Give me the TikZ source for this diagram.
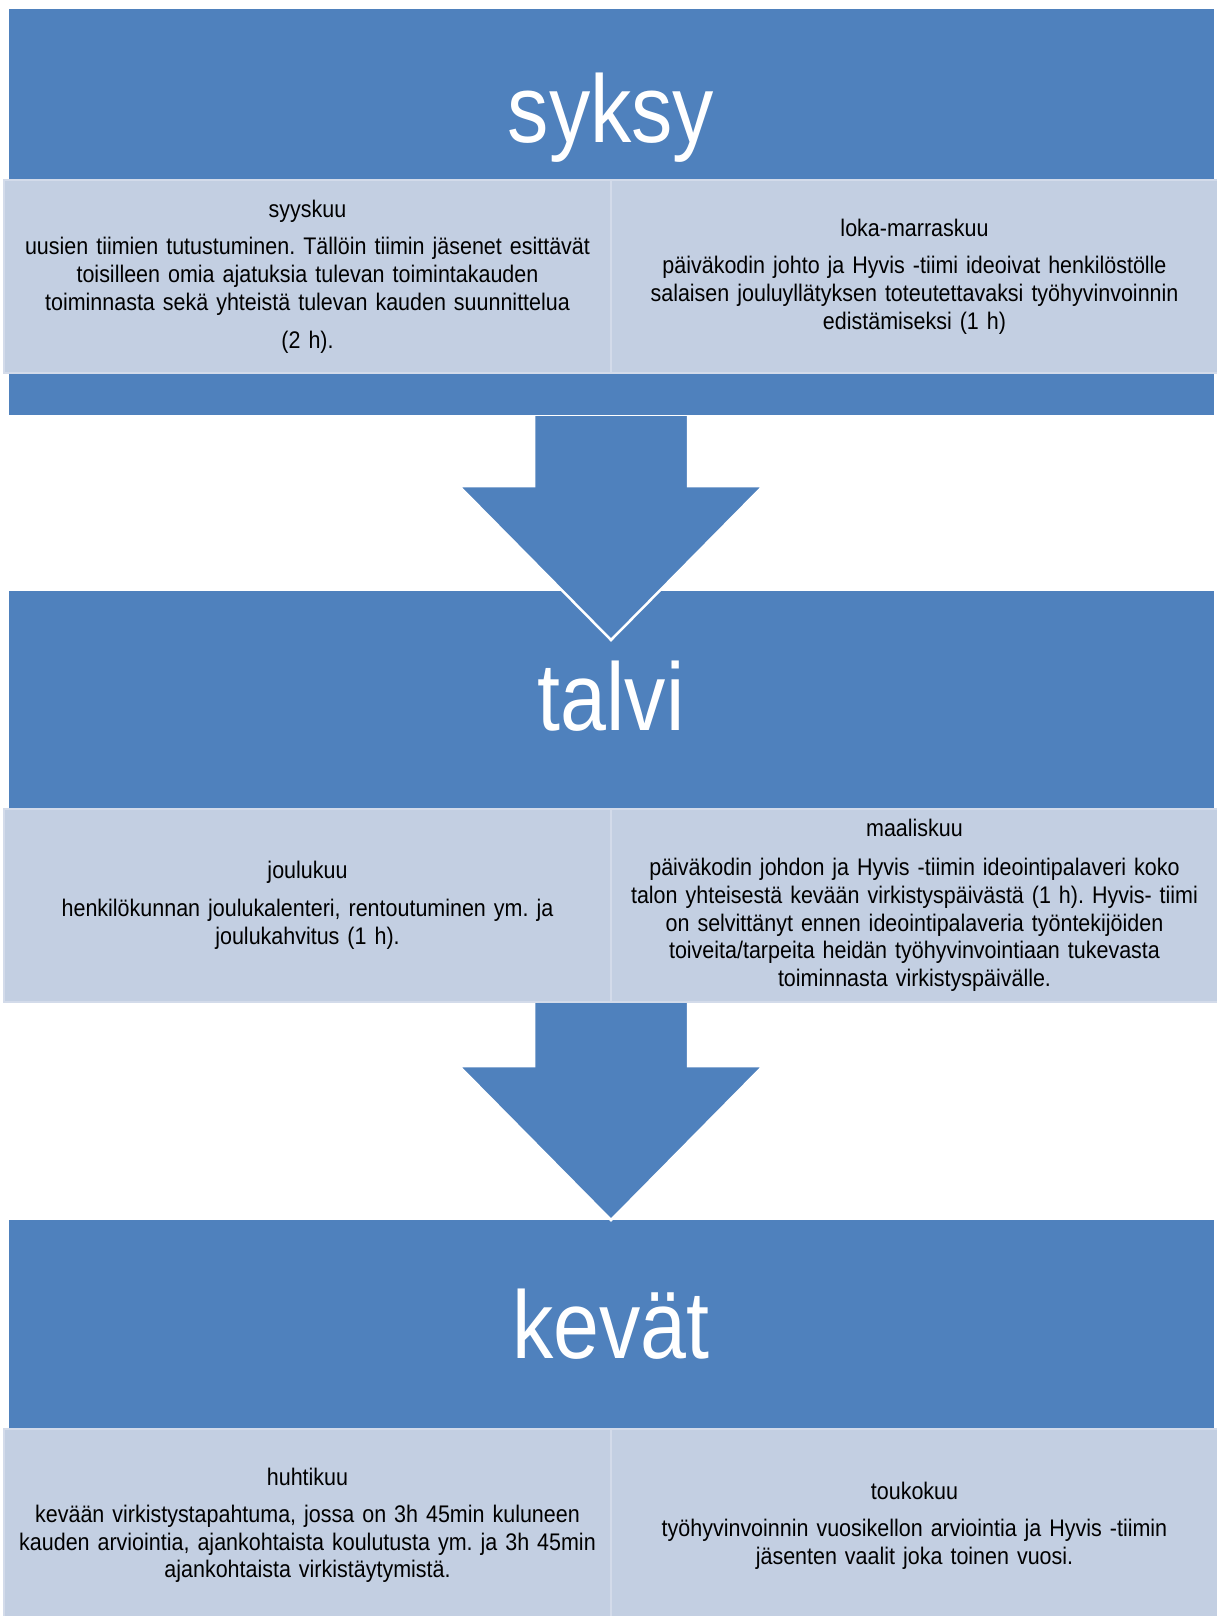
\documentclass[tikz,border=0pt]{standalone}
\usepackage{fontspec}
\setmainfont{Liberation Sans}
\newfontfamily\bodyfont{Liberation Sans}[FakeStretch=0.895]
\newfontfamily\seasonfont{Liberation Sans}[FakeStretch=0.86]
\usepackage{xcolor}
\usepackage{tikz}
\frenchspacing

\definecolor{bandblue}{RGB}{79,129,189}
\definecolor{boxfill}{RGB}{195,207,226}
\definecolor{boxline}{RGB}{211,219,234}

\begin{document}
\begin{tikzpicture}[x=1pt, y=-1pt,
  band/.style={rectangle, fill=bandblue, draw=white, line width=0.8pt, minimum width=1206pt, inner sep=0pt},
  season/.style={font=\seasonfont\fontsize{96pt}{110pt}\selectfont, text=white, anchor=base, inner sep=0pt},
  monthbox/.style={rectangle, fill=boxfill, draw=boxline, line width=2.5pt, minimum width=607pt, minimum height=193pt, align=center, text width=600pt, inner sep=0pt, font=\bodyfont\fontsize{24pt}{27.8pt}\selectfont},
  downarrow/.style={fill=bandblue, draw=white, line width=2.5pt, line join=miter}
]
\useasboundingbox (0,0) rectangle (1217,1616);
\clip (0,0) rectangle (1217,1616);

% Spring block (drawn first, the arrow lies over it)
\node[band, minimum height=420pt] (kevatband) at (611,1429) {};
\node[season] (kevat) at (611,1358) {kevät};
\node[monthbox] (huhtikuu) at (307.5,1525.5) {huhtikuu\\[9pt]
  kevään virkistystapahtuma, jossa on 3h 45min kuluneen\\
  kauden arviointia, ajankohtaista koulutusta ym. ja 3h 45min\\
  ajankohtaista virkistäytymistä.};
\node[monthbox] (toukokuu) at (914.5,1525.5) {toukokuu\\[9pt]
  työhyvinvoinnin vuosikellon arviointia ja Hyvis -tiimin\\
  jäsenten vaalit joka toinen vuosi.};

% Arrow winter -> spring
\coordinate (tip2) at (611,1220);
\filldraw[downarrow] (tip2) -- ++(152,-154) -- ++(-75,0) -- ++(0,-80) -- ++(-154,0) -- ++(0,80) -- ++(-75,0) -- cycle;

% Winter block
\node[band, minimum height=410pt] (talviband) at (611,795) {};
\node[season] (talvi) at (611,730) {talvi};
\node[monthbox] (joulukuu) at (307.5,905.5) {joulukuu\\[10pt]
  henkilökunnan joulukalenteri, rentoutuminen ym. ja\\
  joulukahvitus (1 h).};
\node[monthbox] (maaliskuu) at (914.5,905.5) {maaliskuu\\[11pt]
  päiväkodin johdon ja Hyvis -tiimin ideointipalaveri koko\\
  talon yhteisestä kevään virkistyspäivästä (1 h). Hyvis- tiimi\\
  on selvittänyt ennen ideointipalaveria työntekijöiden\\
  toiveita/tarpeita heidän työhyvinvointiaan tukevasta\\
  toiminnasta virkistyspäivälle.};

% Arrow autumn -> winter
\coordinate (tip1) at (611,640);
\filldraw[downarrow] (tip1) -- ++(152,-154) -- ++(-75,0) -- ++(0,-90) -- ++(-154,0) -- ++(0,90) -- ++(-75,0) -- cycle;

% Autumn block
\node[band, minimum height=407pt] (syksyband) at (611,211.5) {};
\node[season] (syksy) at (611,143) {syksy};
\node[monthbox] (syyskuu) at (307.5,276.5) {syyskuu\\[10pt]
  uusien tiimien tutustuminen. Tällöin tiimin jäsenet esittävät\\
  toisilleen omia ajatuksia tulevan toimintakauden\\
  toiminnasta sekä yhteistä tulevan kauden suunnittelua\\[10pt]
  (2 h).};
\node[monthbox] (lokamarras) at (914.5,276.5) {loka-marraskuu\\[10pt]
  päiväkodin johto ja Hyvis -tiimi ideoivat henkilöstölle\\
  salaisen jouluyllätyksen toteutettavaksi työhyvinvoinnin\\
  edistämiseksi (1 h)};

\end{tikzpicture}
\end{document}
